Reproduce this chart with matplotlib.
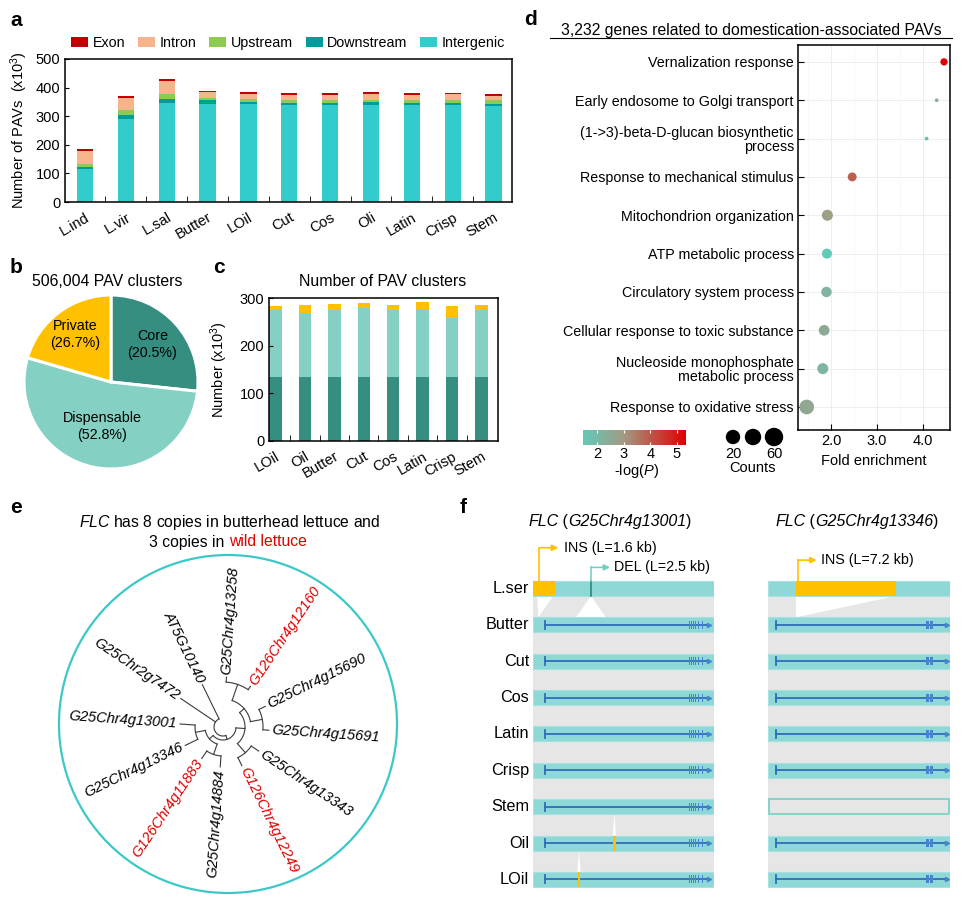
import numpy as np
import matplotlib
matplotlib.use('Agg')
import matplotlib.pyplot as plt
from matplotlib.patches import Rectangle, Polygon, Circle
from matplotlib.colors import LinearSegmentedColormap

plt.rcParams['font.family'] = ['Liberation Sans', 'DejaVu Sans']
plt.rcParams['mathtext.fontset'] = 'custom'
plt.rcParams['mathtext.rm'] = 'Liberation Sans'
plt.rcParams['mathtext.it'] = 'Liberation Sans:italic'
plt.rcParams['mathtext.bf'] = 'Liberation Sans:bold'
plt.rcParams['axes.linewidth'] = 1.1
plt.rcParams['xtick.labelsize'] = 10.5
plt.rcParams['ytick.labelsize'] = 10.5

# ---- data: panel a (x10^3 PAVs per genome)
cats_a = ['L.ind', 'L.vir', 'L.sal', 'Butter', 'LOil', 'Cut', 'Cos', 'Oli', 'Latin', 'Crisp', 'Stem']
intergenic = [115, 289, 345, 344, 341, 338, 338, 340, 338, 338, 336]
downstream = [8, 15, 16, 11, 9, 9, 9, 8, 9, 9, 8]
upstream = [9, 16, 17, 9, 11, 11, 11, 10, 11, 11, 12]
intron = [47, 42, 45, 19, 18, 17, 17, 19, 17, 18, 16]
exon = [6, 7, 7, 6, 5, 7, 6, 6, 6, 5, 5]

# ---- panel b (wedge sizes as drawn, labels as printed)
pie_names = ['Core', 'Dispensable', 'Private']
pie_sizes = [26.7, 52.8, 20.5]
pie_labels = ['Core\n(20.5%)', 'Dispensable\n(52.8%)', 'Private\n(26.7%)']

# ---- panel c (x10^3 PAV clusters)
cats_c = ['LOil', 'Oil', 'Butter', 'Cut', 'Cos', 'Latin', 'Crisp', 'Stem']
core_c = [135, 135, 135, 135, 135, 135, 135, 135]
disp_c = [141, 135, 141, 145, 141, 143, 124, 141]
priv_c = [9, 16, 12, 10, 10, 14, 26, 10]

# ---- panel d (GO enrichment)
terms = ['Vernalization response', 'Early endosome to Golgi transport',
         '(1->3)-beta-D-glucan biosynthetic\nprocess', 'Response to mechanical stimulus',
         'Mitochondrion organization', 'ATP metabolic process', 'Circulatory system process',
         'Cellular response to toxic substance', 'Nucleoside monophosphate\nmetabolic process',
         'Response to oxidative stress']
fold = [4.46, 4.30, 4.08, 2.46, 1.92, 1.91, 1.90, 1.85, 1.82, 1.47]
logp = [5.2, 2.2, 1.9, 3.9, 2.9, 1.5, 2.2, 2.5, 2.1, 2.6]
counts = [15, 4, 4, 22, 34, 28, 30, 32, 34, 60]

# ---- panel e (FLC tree, leaves in circular order)
leaf_order = ['AT5G10140', 'G25Chr2g7472', 'G25Chr4g13001', 'G25Chr4g13346', 'G126Chr4g11883',
              'G25Chr4g14884', 'G126Chr4g12249', 'G25Chr4g13343', 'G25Chr4g15691', 'G25Chr4g15690',
              'G126Chr4g12160', 'G25Chr4g13258']
tip_depth = {'AT5G10140': 47, 'G25Chr2g7472': 51, 'G25Chr4g13001': 43, 'G25Chr4g13346': 42,
             'G126Chr4g11883': 38, 'G25Chr4g14884': 40, 'G126Chr4g12249': 43, 'G25Chr4g13343': 43,
             'G25Chr4g15691': 46, 'G25Chr4g15690': 47, 'G126Chr4g12160': 49, 'G25Chr4g13258': 50}
tree = (9, ['AT5G10140', 'G25Chr2g7472',
            (13, [(18, [(28, ['G25Chr4g13001', 'G25Chr4g13346']), (29, ['G126Chr4g11883', 'G25Chr4g14884'])]),
                  (22, [(34, ['G126Chr4g12249', 'G25Chr4g13343']),
                        (28, [(40, ['G25Chr4g15691', 'G25Chr4g15690']), (45, ['G126Chr4g12160', 'G25Chr4g13258'])])])])])

# ---- panel f (positions along locus, 0-100)
rows_f = ['L.ser', 'Butter', 'Cut', 'Cos', 'Latin', 'Crisp', 'Stem', 'Oil', 'LOil']
ins1_block = (0, 12.3)
del1_pos = 32.1
del1_width = 16.5
ins2_block = (15.2, 70.2)
small_ins1 = {'Oil': 45.0, 'LOil': 25.5}
gene1 = dict(start=6.8, end=97.0, exons=[86.2, 87.3, 88.4, 89.8, 91.2, 93.6], w=0.6)
gene2 = dict(start=4.2, end=98.2, exons=[87.8, 90.0], w=1.5)
absent2 = ['Stem']

W, H = 978, 900
fig = plt.figure(figsize=(W / 100, H / 100), dpi=100)
rend = fig.canvas.get_renderer()


def box(x0, y0, x1, y1):
    return [x0 / W, 1 - y1 / H, (x1 - x0) / W, (y1 - y0) / H]


def ftext(x, y, s, **kw):
    return fig.text(x / W, 1 - y / H, s, **kw)


def chain(x, y, parts, fs, center=False):
    # text pieces on one baseline, each with its own style/colour
    ts, cur = [], x
    for s, st, col in parts:
        t = ftext(cur, y, s, style=st, color=col, fontsize=fs, ha='left', va='baseline')
        ts.append((t, cur))
        cur += t.get_window_extent(renderer=rend).width
    if center:
        sh = (cur - x) / 2
        for t, px in ts:
            t.set_x((px - sh) / W)


ov = fig.add_axes([0, 0, 1, 1])
ov.set_xlim(0, W)
ov.set_ylim(H, 0)
ov.axis('off')

for lt, (lx, ly) in zip('abcdef', [(10, 26), (10, 273), (213, 273), (524, 25), (10, 513), (460, 513)]):
    ftext(lx, ly, lt, fontsize=15, fontweight='bold', va='baseline')

# ================= a
ax = fig.add_axes(box(65, 59, 512, 202))
xa = np.arange(len(cats_a))
bot = np.zeros(len(cats_a))
for vals, col, lab in zip([intergenic, downstream, upstream, intron, exon],
                          ['#33cccc', '#009b9b', '#8ccc55', '#f5b48c', '#c00000'],
                          ['Intergenic', 'Downstream', 'Upstream', 'Intron', 'Exon']):
    ax.bar(xa, vals, 0.4, bottom=bot, color=col, label=lab)
    bot += np.array(vals)
ax.set_xlim(-0.49, 10.45)
ax.set_ylim(0, 500)
ax.set_yticks(range(0, 501, 100))
ax.set_xticks(xa)
ax.set_xticklabels(cats_a, rotation=30, ha='right', rotation_mode='anchor')
ax.set_xticks(xa[:-1] + 0.5, minor=True)
ax.tick_params(axis='x', which='major', length=0, pad=6)
ax.tick_params(axis='x', which='minor', direction='in', length=4)
ax.tick_params(axis='y', direction='in', length=3)
ax.set_ylabel('Number of PAVs  (x10$^3$)', fontsize=10.5)
ax.yaxis.set_label_coords(-0.078, 0.5)
hd, lb = ax.get_legend_handles_labels()
ax.legend(hd[::-1], lb[::-1], ncol=5, loc='center', bbox_to_anchor=(288 / W, 1 - 43 / H),
          bbox_transform=fig.transFigure, frameon=False, handlelength=1.2, handleheight=0.65,
          handletextpad=0.3, columnspacing=0.9, fontsize=10.3, borderpad=0, borderaxespad=0)

# ================= b
axb = fig.add_axes(box(24, 295, 198, 469))
wedges, _ = axb.pie(pie_sizes, colors=['#358e80', '#84d0c3', '#ffc000'], startangle=90,
                    counterclock=False, wedgeprops=dict(edgecolor='white', linewidth=2.2))
axb.set_xlim(-1, 1)
axb.set_ylim(-1, 1)
for w, lab, rr in zip(wedges, pie_labels, [0.64, 0.52, 0.68]):
    a = np.deg2rad((w.theta1 + w.theta2) / 2)
    axb.text(rr * np.cos(a), rr * np.sin(a), lab, ha='center', va='center', fontsize=10.3, linespacing=1.25)
ftext(107, 282, '506,004 PAV clusters', ha='center', va='center', fontsize=11.4)

# ================= c
axc = fig.add_axes(box(269, 298, 498, 441))
xc = np.arange(len(cats_c))
axc.bar(xc, core_c, 0.42, color='#358e80')
axc.bar(xc, disp_c, 0.42, bottom=core_c, color='#84d0c3')
axc.bar(xc, priv_c, 0.42, bottom=np.add(core_c, disp_c), color='#ffc000')
axc.set_xlim(-0.22, 7.56)
axc.set_ylim(0, 301)
axc.set_yticks([0, 100, 200, 300])
axc.set_xticks(xc)
axc.set_xticklabels(cats_c, rotation=30, ha='right', rotation_mode='anchor')
axc.set_xticks(xc[:-1] + 0.5, minor=True)
axc.tick_params(axis='x', which='major', length=0, pad=6)
axc.tick_params(axis='x', which='minor', direction='in', length=4)
axc.tick_params(axis='y', direction='in', length=3)
axc.set_ylabel('Number (x10$^3$)', fontsize=10.5)
axc.yaxis.set_label_coords(-0.17, 0.5)
ftext(383, 282, 'Number of PAV clusters', ha='center', va='center', fontsize=11.4)

# ================= d
cmap = LinearSegmentedColormap.from_list('tr', [(0, '#62cab9'), (0.39, '#a39b84'), (1, '#e00000')])
vmin, vmax = 1.48, 5.34
axd = fig.add_axes(box(798, 45, 950, 430))
yd = np.arange(len(terms))
axd.scatter(fold, yd, s=1.866 * np.array(counts), c=logp, cmap=cmap, vmin=vmin, vmax=vmax,
            edgecolors='none', zorder=3)
axd.set_xlim(1.28, 4.59)
axd.set_ylim(9.6, -0.44)
axd.set_yticks(yd)
axd.set_yticklabels(terms, fontsize=10.3)
for t in axd.get_yticklabels():
    t.set_linespacing(1.0)
axd.set_xticks([2, 3, 4])
axd.set_xticklabels(['2.0', '3.0', '4.0'])
axd.set_xticks([1.5, 2.5, 3.5, 4.5], minor=True)
axd.grid(which='major', color='#ebebeb', lw=0.6)
axd.grid(which='minor', axis='x', color='#f5f5f5', lw=0.5)
axd.set_axisbelow(True)
axd.tick_params(which='minor', length=0)
axd.tick_params(which='major', direction='in', length=4, pad=3)
axd.set_xlabel('Fold enrichment', fontsize=10.5, labelpad=4)
ftext(751, 30, '3,232 genes related to domestication-associated PAVs', ha='center', va='center', fontsize=11.3)
ov.plot([550, 952], [38, 38], color='black', lw=0.8)

axcb = fig.add_axes(box(583, 430, 686, 445))
axcb.imshow(np.linspace(vmin, vmax, 256)[None, :], extent=[vmin, vmax, 0, 1], aspect='auto', cmap=cmap)
axcb.set_xlim(vmin, vmax)
axcb.set_ylim(0, 1)
axcb.set_yticks([])
axcb.set_xticks([2, 3, 4, 5])
axcb.tick_params(length=0, pad=1.5)
for s in axcb.spines.values():
    s.set_visible(False)
axcb.vlines([2, 3, 4, 5], 0, 0.2, color='white', lw=0.8)
axcb.vlines([2, 3, 4, 5], 0.8, 1, color='white', lw=0.8)
ftext(636, 471, r'-log($\it{P}$)', ha='center', va='center', fontsize=10.5)

leg_counts = [20, 40, 60]
leg_diam = [13, 15, 17]
ov.scatter([733, 753, 774], [437, 437, 437], s=[(d * 0.72) ** 2 for d in leg_diam], c='black')
ov.text(733, 454, str(leg_counts[0]), ha='center', va='center', fontsize=10.5)
ov.text(774, 454, str(leg_counts[2]), ha='center', va='center', fontsize=10.5)
ov.text(753, 468, 'Counts', ha='center', va='center', fontsize=10.5)

# ================= e
ftext(230, 522, r'$\it{FLC}$ has 8 copies in butterhead lettuce and', ha='center', va='center', fontsize=11.3)
t2 = ftext(149, 542, '3 copies in ', ha='left', va='center', fontsize=11.3)
ov.annotate('wild lettuce', xy=(1, 0.5), xycoords=t2, ha='left', va='center', fontsize=11.3, color='#e00000')
ov.add_patch(Circle((228, 724), 169, fill=False, ec='#3cc8c8', lw=1.6))

cx, cy = 223, 727
leaf_ang = {n: 116 + 30 * i for i, n in enumerate(leaf_order)}


def node_angle(n):
    if isinstance(n, str):
        return leaf_ang[n]
    return np.mean([node_angle(c) for c in n[1]])


def pol(r, a):
    a = np.deg2rad(a)
    return cx + r * np.cos(a), cy - r * np.sin(a)


def draw(n, parent_r):
    a = node_angle(n)
    r = tip_depth[n] if isinstance(n, str) else n[0]
    if parent_r is not None:
        x0, y0 = pol(parent_r, a)
        x1, y1 = pol(r, a)
        ov.plot([x0, x1], [y0, y1], color='#3a3a3a', lw=0.8)
    if isinstance(n, str):
        aa = a % 360
        lx, ly = pol(r + 3, aa)
        if 90 < aa < 270:
            rot, ha = aa - 180, 'right'
        else:
            rot, ha = (aa if aa <= 90 else aa - 360), 'left'
        ov.text(lx, ly, n, rotation=rot, ha=ha, va='center', rotation_mode='anchor',
                fontsize=10.5, style='italic', color='#e00000' if n.startswith('G126') else 'black')
    else:
        angs = [node_angle(c) for c in n[1]]
        xs, ys = pol(r, np.linspace(min(angs), max(angs), 80))
        ov.plot(xs, ys, color='#3a3a3a', lw=0.8)
        for c in n[1]:
            draw(c, r)


draw(tree, None)

# ================= f
orange = '#ffc000'
track = '#8ed8d8'
blue = '#2f6db8'
hh = 0.206


def column(x0, x1, gene, first):
    a = fig.add_axes(box(x0, 540, x1, 890))
    a.set_xlim(0, 100)
    a.set_ylim(8.289, -1.333)
    a.axis('off')
    a.add_patch(Rectangle((0, hh), 100, 8, fc='#e6e6e6', ec='none', zorder=0))
    for i, name in enumerate(rows_f):
        if not first and name in absent2:
            a.add_patch(Rectangle((0.3, i - hh), 99.4, 2 * hh, fc='#e6e6e6', ec='#7fd0c8', lw=1.3, zorder=2))
            continue
        a.add_patch(Rectangle((0, i - hh), 100, 2 * hh, fc=track, ec='#a6e2e2', lw=0.8, zorder=2))
        if first:
            a.text(-2, i, name, ha='right', va='center', fontsize=11.7)
        if i == 0:
            continue
        a.plot([gene['start'], gene['end']], [i, i], color=blue, lw=1.3, zorder=4)
        a.plot([gene['start']] * 2, [i - 0.11, i + 0.11], color=blue, lw=1.3, zorder=4)
        for e in gene['exons']:
            a.add_patch(Rectangle((e - gene['w'] / 2, i - 0.11), gene['w'], 0.22, fc='#4784cf', ec='none', zorder=5))
        a.plot([gene['end']], [i], marker='>', ms=3, color='#4784cf', zorder=5)
        if first and name in small_ins1:
            p = small_ins1[name]
            a.add_patch(Polygon([(p, i - 1 + hh), (p - 0.9, i - hh), (p + 0.9, i - hh)], fc='white', ec='none', zorder=1))
            a.add_patch(Rectangle((p - 0.8, i - hh), 1.6, 2 * hh, fc=orange, ec='none', zorder=6))
    return a


axL = column(532.7, 714.3, gene1, True)
axR = column(768.3, 950, gene2, False)

# left: INS and DEL on L.ser
axL.add_patch(Rectangle((ins1_block[0], -hh), ins1_block[1] - ins1_block[0], 2 * hh, fc=orange, ec='none', zorder=3))
axL.add_patch(Polygon([(2.5, hh), (11.3, hh), (3.1, 1 - hh)], fc='white', ec='none', zorder=1))
axL.add_patch(Polygon([(del1_pos, hh), (del1_pos - del1_width / 2, 1 - hh), (del1_pos + del1_width / 2, 1 - hh)],
                      fc='white', ec='none', zorder=1))
axL.plot([del1_pos, del1_pos], [-hh, hh], color='#2a8a7a', lw=1.2, zorder=4)
axL.plot([del1_pos, del1_pos], [-hh, -0.58], color='#6cd0c0', lw=1.1, zorder=4)
axL.annotate('', xy=(42.6, -0.58), xytext=(del1_pos, -0.58),
             arrowprops=dict(arrowstyle='-|>', color='#6cd0c0', lw=1.1, mutation_scale=9, shrinkA=0, shrinkB=0))
axL.text(44.9, -0.58, 'DEL (L=2.5 kb)', ha='left', va='center', fontsize=10.3)
axL.plot([3.6, 3.6], [-hh, -1.12], color=orange, lw=1.2, zorder=4)
axL.annotate('', xy=(14.1, -1.12), xytext=(3.6, -1.12),
             arrowprops=dict(arrowstyle='-|>', color=orange, lw=1.2, mutation_scale=9, shrinkA=0, shrinkB=0))
axL.text(17.2, -1.12, 'INS (L=1.6 kb)', ha='left', va='center', fontsize=10.3)

# right: INS on L.ser
axR.add_patch(Rectangle((ins2_block[0], -hh), ins2_block[1] - ins2_block[0], 2 * hh, fc=orange, ec='none', zorder=3))
axR.add_patch(Polygon([(ins2_block[0], hh), (ins2_block[1], hh), (ins2_block[0], 1 - hh)], fc='white', ec='none', zorder=1))
axR.plot([16.2, 16.2], [-hh, -0.78], color=orange, lw=1.2, zorder=4)
axR.annotate('', xy=(26.6, -0.78), xytext=(16.2, -0.78),
             arrowprops=dict(arrowstyle='-|>', color=orange, lw=1.2, mutation_scale=9, shrinkA=0, shrinkB=0))
axR.text(28.9, -0.78, 'INS (L=7.2 kb)', ha='left', va='center', fontsize=10.3)

for xc_t, gid in [(610, 'G25Chr4g13001'), (857, 'G25Chr4g13346')]:
    chain(xc_t, 526, [('FLC', 'italic', 'black'), (' (', 'normal', 'black'), (gid, 'italic', 'black'),
                      (')', 'normal', 'black')], 11.5, center=True)

fig.savefig('out.png', dpi=100)
